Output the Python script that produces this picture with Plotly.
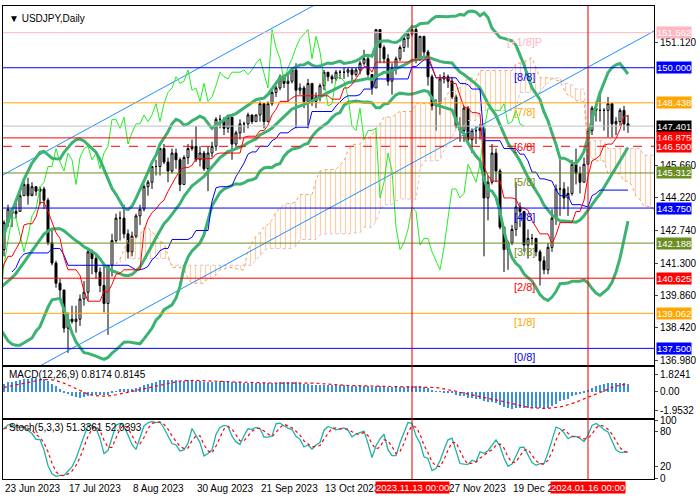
import numpy as np
import pandas as pd
import plotly.graph_objects as go
from plotly.subplots import make_subplots

# ---------------- data (USDJPY daily) ----------------
holidays = ["2023-12-25", "2024-01-01"]
closes = [
    138.6, 138.6, 139.5, 140.1, 140.6,
    140.4, 139.8, 139.3, 138.8, 139.9,
    139.6, 139.2, 140.1, 139.3, 139.4,
    139.6, 140.2, 140.0, 140.3, 141.8,
    141.9, 141.5, 141.9, 143.1, 143.7,
    143.5, 143.6, 144.3, 144.8, 144.3,
    144.7, 144.5, 144.6, 144.1, 142.2,
    141.3, 140.4, 140.1, 138.4, 138.8,
    138.7, 138.8, 139.7, 140.0, 141.8,
    141.5, 140.9, 140.3, 139.5, 141.2,
    142.3, 143.3, 143.3, 142.6, 141.8,
    142.5, 143.4, 143.7, 144.7, 144.9,
    145.6, 145.6, 146.4, 145.8, 145.4,
    146.2, 145.9, 144.8, 146.0, 146.4,
    146.5, 145.9, 146.2, 145.5, 146.2,
    146.5, 147.7, 147.7, 147.3, 147.8,
    146.6, 147.1, 147.5, 147.5, 147.9,
    147.6, 147.9, 148.4, 147.6, 148.4,
    148.9, 149.1, 149.6, 149.3, 149.4,
    149.9, 149.0, 149.1, 148.5, 149.3,
    148.5, 148.7, 149.2, 149.8, 149.6,
    149.5, 149.8, 149.8, 149.8, 149.9,
    149.7, 149.9, 150.2, 150.4, 149.7,
    149.1, 151.7, 150.9, 150.4, 149.4,
    150.0, 150.4, 150.9, 151.3, 151.5,
    151.7, 150.4, 151.4, 150.7, 149.6,
    148.3, 148.4, 149.5, 149.6, 149.4,
    148.7, 147.4, 147.2, 148.2, 146.8,
    147.2, 147.2, 147.3, 144.2, 144.9,
    146.2, 145.4, 142.9, 141.9, 142.2,
    142.8, 143.8, 143.6, 142.1, 142.4,
    142.4, 141.8, 141.4, 141.0,
    142.0, 143.3, 144.6, 144.6,
    144.2, 144.4, 145.7, 145.3, 144.9,
    145.7, 147.2, 148.2, 148.1, 148.1,
    148.1, 148.4, 147.5, 147.6, 148.1,
    147.5, 147.401,
]
highs = [
    138.9, 138.9, 139.7, 140.2, 140.9,
    140.9, 140.9, 140.2, 139.6, 140.0,
    140.4, 139.8, 140.2, 140.2, 139.8,
    139.8, 140.3, 140.5, 141.5, 141.9,
    142.0, 142.3, 142.0, 143.2, 143.9,
    143.6, 144.0, 144.6, 145.0, 145.1,
    144.9, 144.7, 144.7, 144.7, 144.2,
    142.8, 141.4, 140.6, 139.6, 139.1,
    139.4, 139.4, 139.9, 140.5, 141.9,
    141.9, 141.7, 141.1, 141.3, 141.2,
    142.6, 143.5, 143.6, 143.9, 142.8,
    142.7, 143.5, 143.9, 144.8, 145.0,
    145.6, 145.9, 146.4, 146.6, 146.0,
    146.4, 146.4, 146.0, 146.1, 146.6,
    146.8, 147.4, 146.5, 146.3, 146.5,
    146.7, 147.8, 147.9, 147.8, 147.9,
    147.5, 147.2, 147.7, 147.6, 148.0,
    147.9, 147.9, 148.5, 148.2, 148.5,
    149.0, 149.2, 149.7, 149.7, 149.7,
    150.0, 150.2, 149.3, 149.2, 149.5,
    149.1, 148.9, 149.3, 149.9, 149.8,
    149.7, 149.9, 149.9, 150.0, 150.0,
    150.0, 150.0, 150.3, 150.8, 150.5,
    149.7, 151.7, 151.7, 151.0, 150.6,
    150.2, 150.5, 151.0, 151.4, 151.6,
    151.9, 151.9, 151.4, 151.4, 150.8,
    149.7, 148.6, 149.7, 149.8, 149.7,
    149.6, 148.8, 147.8, 148.3, 148.3,
    147.3, 147.4, 147.5, 147.4, 145.2,
    146.6, 146.4, 145.5, 142.6, 142.3,
    143.0, 144.9, 144.0, 143.5, 142.8,
    142.6, 142.4, 141.9, 141.6,
    142.2, 143.7, 144.8, 145.9,
    144.9, 144.7, 145.9, 146.4, 145.6,
    146.0, 147.3, 148.3, 148.5, 148.8,
    148.2, 148.7, 148.4, 147.8, 148.2,
    148.3, 147.9,
]
lows = [
    137.9, 138.2, 138.5, 139.3, 139.7,
    140.2, 139.6, 139.0, 138.4, 138.4,
    139.5, 139.0, 138.9, 138.8, 139.0,
    139.3, 139.5, 139.3, 139.8, 139.9,
    141.3, 141.3, 141.0, 141.6, 142.9,
    142.9, 143.3, 143.6, 144.3, 143.9,
    144.4, 144.3, 143.9, 143.7, 142.1,
    141.2, 140.2, 139.7, 138.2, 137.3,
    138.6, 138.2, 138.5, 139.4, 139.6,
    140.8, 140.6, 140.0, 139.1, 138.1,
    140.7, 142.2, 142.3, 142.4, 141.5,
    141.6, 142.4, 143.0, 143.6, 144.3,
    144.6, 145.2, 145.2, 145.7, 144.9,
    145.3, 145.5, 144.5, 144.8, 145.7,
    146.3, 145.8, 145.6, 145.4, 144.5,
    146.0, 146.3, 147.3, 147.0, 147.1,
    145.9, 146.4, 146.8, 147.1, 147.3,
    147.5, 147.6, 147.6, 147.3, 147.6,
    148.3, 148.7, 149.0, 149.1, 148.5,
    149.3, 147.3, 148.8, 148.2, 147.3,
    148.3, 148.2, 148.5, 149.0, 149.4,
    149.3, 149.4, 149.5, 149.5, 149.6,
    149.3, 149.6, 149.7, 150.1, 149.6,
    148.8, 149.1, 150.2, 150.2, 149.2,
    148.8, 149.7, 150.3, 150.7, 150.9,
    151.4, 150.2, 150.3, 150.5, 149.2,
    148.1, 147.2, 147.9, 149.3, 149.1,
    148.6, 147.3, 146.7, 146.7, 146.6,
    146.2, 146.6, 146.8, 141.6, 143.2,
    144.8, 144.9, 142.8, 140.9, 141.0,
    142.1, 142.5, 142.9, 141.8, 141.5,
    142.1, 141.6, 140.3, 140.8,
    140.8, 141.8, 143.0, 143.4,
    143.7, 143.4, 144.3, 144.8, 144.4,
    144.9, 145.7, 147.0, 147.6, 147.6,
    147.2, 146.9, 146.9, 147.0, 147.4,
    147.2, 147.1,
]

murrey_levels = [151.562, 150.000, 148.438, 146.875, 145.312, 143.750, 142.188, 140.625, 139.062, 137.500]
murrey_names = ["[+1/8]P", "[8/8]", "[7/8]", "[6/8]", "[5/8]", "[4/8]", "[3/8]", "[2/8]", "[1/8]", "[0/8]"]
murrey_colors = ["#FFB6C1", "#0000FF", "#FFA500", "#FF0000", "#6B8E23", "#0000FF", "#6B8E23", "#FF0000", "#FFA500", "#0000FF"]
current_price = 147.401
pivot_dashed = 146.500
price_ticks = [151.120, 145.660, 144.220, 142.740, 141.300, 139.860, 138.420, 136.980]
date_labels = [("2023-06-23", "23 Jun 2023"), ("2023-07-17", "17 Jul 2023"), ("2023-08-08", "8 Aug 2023"),
               ("2023-08-30", "30 Aug 2023"), ("2023-09-21", "21 Sep 2023"), ("2023-10-13", "13 Oct 2023"),
               ("2023-11-27", "27 Nov 2023"), ("2023-12-19", "19 Dec 2023")]
marked_dates = [("2023-11-13", "2023.11.13 00:00"), ("2024-01-16", "2024.01.16 00:00")]
channel_lower = [("2023-07-14", 137.40), ("2024-01-30", 151.00)]
channel_upper_start = ("2023-06-22", 145.25)
macd_label = "MACD(12,26,9) 0.8174 0.8145"
stoch_label = "Stoch(5,3,3) 51.3361 52.0393"

# ---------------- derived ----------------
dates = [d for d in pd.bdate_range("2023-05-22", "2024-01-30") if d.strftime("%Y-%m-%d") not in holidays]
assert len(dates) == len(closes) == len(highs) == len(lows)
didx = {d.strftime("%Y-%m-%d"): i for i, d in enumerate(dates)}
n = len(closes)
x = np.arange(n)
c = pd.Series(closes); h = pd.Series(highs); l = pd.Series(lows)
opens = [closes[0] - 0.2] + closes[:-1]

bb_mid = c.rolling(20).mean(); bb_sd = c.rolling(20).std(ddof=0)
bb_up = bb_mid + 2 * bb_sd; bb_lo = bb_mid - 2 * bb_sd
tenkan = (h.rolling(9).max() + l.rolling(9).min()) / 2
kijun = (h.rolling(26).max() + l.rolling(26).min()) / 2
spanA = (tenkan + kijun) / 2
spanB = (h.rolling(52, min_periods=30).max() + l.rolling(52, min_periods=30).min()) / 2
ema12 = c.ewm(span=12, adjust=False).mean(); ema26 = c.ewm(span=26, adjust=False).mean()
macd = ema12 - ema26; sig = macd.rolling(9).mean()
ll = l.rolling(5).min(); hh = h.rolling(5).max()
k = 100 * (c - ll).rolling(3).sum() / (hh - ll).rolling(3).sum()
d = k.rolling(3).mean()

x0 = didx["2023-06-23"] - 1.25
x1 = didx["2024-01-30"] + 6.5
FONT = "Liberation Sans"

fig = make_subplots(rows=3, cols=1, shared_xaxes=True)

fig.add_trace(go.Scatter(x=x + 26, y=spanB, mode="lines", line=dict(color="#D8BFD8", width=1, dash="dot"),
                         hoverinfo="skip"), row=1, col=1)
fig.add_trace(go.Scatter(x=x + 26, y=spanA, mode="lines", line=dict(color="#F4A460", width=1, dash="dot"),
                         fill="tonexty", fillcolor="rgba(0,0,0,0)",
                         fillpattern=dict(shape="|", fgcolor="#F4A460", bgcolor="rgba(255,255,255,0)", size=5, solidity=0.25),
                         hoverinfo="skip"), row=1, col=1)
for lv, col in zip(murrey_levels, murrey_colors):
    fig.add_hline(y=lv, line=dict(color=col, width=1), row=1, col=1)
fig.add_hline(y=current_price, line=dict(color="#C0C0C0", width=1), row=1, col=1)
fig.add_hline(y=pivot_dashed, line=dict(color="#FF0000", width=1, dash="dash"), row=1, col=1)

(ld0, lp0), (ld1, lp1) = channel_lower
slope = (lp1 - lp0) / (didx[ld1] - didx[ld0])
ux0 = didx[channel_upper_start[0]]
fig.add_trace(go.Scatter(x=[x0 - 2, x1 + 2], y=[lp0 + slope * (x0 - 2 - didx[ld0]), lp0 + slope * (x1 + 2 - didx[ld0])],
                         mode="lines", line=dict(color="#1E90FF", width=1), hoverinfo="skip"), row=1, col=1)
fig.add_trace(go.Scatter(x=[x0 - 2, x1 + 2], y=[channel_upper_start[1] + slope * (x0 - 2 - ux0), channel_upper_start[1] + slope * (x1 + 2 - ux0)],
                         mode="lines", line=dict(color="#1E90FF", width=1), hoverinfo="skip"), row=1, col=1)

fig.add_trace(go.Scatter(x=x - 26, y=c, mode="lines", line=dict(color="#22EE22", width=1)), row=1, col=1)
for s in (bb_up, bb_mid, bb_lo):
    fig.add_trace(go.Scatter(x=x, y=s, mode="lines", line=dict(color="#3CB371", width=3)), row=1, col=1)
fig.add_trace(go.Scatter(x=x, y=kijun, mode="lines", line=dict(color="#0000FF", width=1)), row=1, col=1)
fig.add_trace(go.Scatter(x=x, y=tenkan, mode="lines", line=dict(color="#FF0000", width=1)), row=1, col=1)

fig.add_trace(go.Candlestick(x=x, open=opens, high=highs, low=lows, close=closes, whiskerwidth=0,
                             increasing=dict(line=dict(color="black", width=1), fillcolor="white"),
                             decreasing=dict(line=dict(color="black", width=1), fillcolor="black")), row=1, col=1)

fig.add_trace(go.Bar(x=x, y=macd, marker=dict(color="#3A8EE6", line_width=0), width=0.35), row=2, col=1)
fig.add_trace(go.Scatter(x=x, y=sig, mode="lines", line=dict(color="red", width=1.2, dash="dot")), row=2, col=1)
fig.add_hline(y=80, line=dict(color="#B0B0B0", width=1, dash="dash"), row=3, col=1)
fig.add_hline(y=20, line=dict(color="#B0B0B0", width=1, dash="dash"), row=3, col=1)
fig.add_trace(go.Scatter(x=x, y=k, mode="lines", line=dict(color="#20B2AA", width=1.3)), row=3, col=1)
fig.add_trace(go.Scatter(x=x, y=d, mode="lines", line=dict(color="red", width=1.2, dash="dot")), row=3, col=1)

for ds, _ in marked_dates:
    fig.add_shape(type="line", xref="x", yref="paper", x0=didx[ds], x1=didx[ds], y0=0, y1=1,
                  line=dict(color="#E00000", width=1))

fig.update_layout(width=700, height=500, margin=dict(l=3, r=46, t=1, b=21), showlegend=False,
                  plot_bgcolor="white", paper_bgcolor="white", bargap=0,
                  font=dict(family=FONT, size=10, color="black"))
fig.update_xaxes(range=[x0, x1], showgrid=False, zeroline=False, showticklabels=False,
                 showline=True, mirror=True, linecolor="black", linewidth=1, rangeslider_visible=False)
fig.update_yaxes(side="right", showgrid=False, zeroline=False, showline=True, mirror=True,
                 linecolor="black", linewidth=1, ticks="outside", ticklen=3, tickfont=dict(size=10))
fig.update_layout(
    yaxis=dict(domain=[0.2406, 1], range=[136.75, 152.75], tickvals=price_ticks,
               ticktext=[f"{v:.3f}" for v in price_ticks]),
    yaxis2=dict(domain=[0.1297, 0.2364], range=[-2.67, 2.54], tickvals=[1.8241, 0, -1.9532],
                ticktext=["1.8241", "0.00", "-1.9532"]),
    yaxis3=dict(domain=[0, 0.1255], range=[-1, 101], tickvals=[100, 80, 20, 0],
                ticktext=["100", "80", "20", "0"]),
)

ann = []
ann.append(dict(xref="paper", yref="paper", x=0.006, y=0.99, xanchor="left", yanchor="top",
                text="▼ USDJPY,Daily", showarrow=False, font=dict(size=10, color="black")))
ann.append(dict(xref="paper", yref="paper", x=0.006, y=0.2364, xanchor="left", yanchor="top",
                text=macd_label, showarrow=False, font=dict(size=10, color="black")))
ann.append(dict(xref="paper", yref="paper", x=0.006, y=0.1255, xanchor="left", yanchor="top",
                text=stoch_label, showarrow=False, font=dict(size=10, color="black")))
lab_x = didx["2023-12-21"]
for lv, nm, col in zip(murrey_levels, murrey_names, murrey_colors):
    ann.append(dict(xref="x", yref="y", x=lab_x, y=lv, yanchor="top", yshift=-1, text=nm, showarrow=False,
                    font=dict(size=11, color=col)))
tag_list = list(zip(murrey_levels[:3], murrey_colors[:3])) + [(current_price, "#000000"), (146.875, "#FF0000"),
            (pivot_dashed, "#FF0000")] + list(zip(murrey_levels[4:], murrey_colors[4:]))
for lv, col in tag_list:
    ann.append(dict(xref="paper", yref="y", x=1, y=lv, xanchor="left", xshift=2, text=f"{lv:.3f}",
                    showarrow=False, bgcolor=col, borderpad=0, font=dict(size=9.5, color="white")))
for ds, txt in date_labels:
    ann.append(dict(xref="x", yref="paper", x=didx[ds] - 1.25, y=0, xanchor="left", yanchor="top", yshift=-2,
                    text=txt, showarrow=False, font=dict(size=10, color="black")))
for ds, txt in marked_dates:
    ann.append(dict(xref="x", yref="paper", x=didx[ds], y=0, xanchor="center", yanchor="top", yshift=-2,
                    text=txt, showarrow=False, bgcolor="#FF0000", borderpad=0, font=dict(size=9.5, color="white")))
fig.update_layout(annotations=ann)

fig.write_html("out.html", config={"displayModeBar": False},
               post_script="document.body.style.margin='0';")
